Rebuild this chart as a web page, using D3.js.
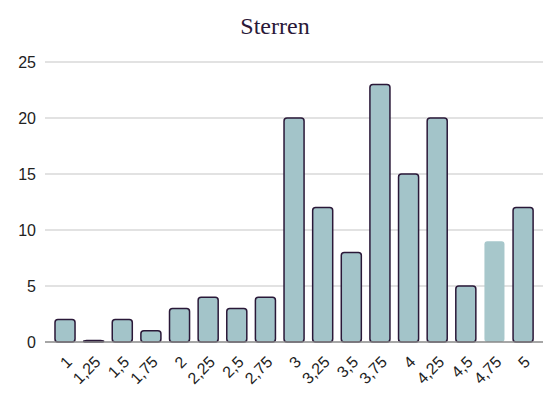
<!DOCTYPE html>
<html lang="nl">
<head>
<meta charset="utf-8">
<script src="https://cdn.jsdelivr.net/npm/d3@7"></script>
<style>
  body { margin: 0; background: #fff; }
  .title { font-family: "Liberation Serif", "DejaVu Serif", serif; font-size: 24px; fill: #2a1838; text-anchor: middle; }
  .tick text { font-family: "Liberation Sans", Arial, sans-serif; font-size: 16px; fill: #222; }
  .grid line { stroke: #d9d9d9; stroke-width: 1.5; }
  .bar { fill: #a3c4c9; stroke: #2a1838; stroke-width: 1.5; }
  .bar.hl { stroke: none; fill: #a7c7cb; }
</style>
</head>
<body>
<div id="chart"></div>
<script>
// data
var labels = ["1","1,25","1,5","1,75","2","2,25","2,5","2,75","3","3,25","3,5","3,75","4","4,25","4,5","4,75","5"];
var counts = [2, 0, 2, 1, 3, 4, 3, 4, 20, 12, 8, 23, 15, 20, 5, 9, 12];
var yTicks = [0, 5, 10, 15, 20, 25];
var highlighted = "4,75";

var width = 549, height = 396;
var plotLeft = 50.7, plotRight = 537.4, plotTop = 62, plotBottom = 342;

var svg = d3.select("#chart").append("svg")
  .attr("width", width)
  .attr("height", height);

svg.append("text")
  .attr("class", "title")
  .attr("x", 275)
  .attr("y", 34)
  .text("Sterren");

var x = d3.scaleBand()
  .domain(labels)
  .range([plotLeft, plotRight])
  .paddingInner(0.3)
  .paddingOuter(0.15);

var y = d3.scaleLinear()
  .domain([0, 25])
  .range([plotBottom, plotTop]);

// gridlines
svg.append("g")
  .attr("class", "grid")
  .selectAll("line")
  .data(yTicks.filter(function(d){ return d > 0; }))
  .enter().append("line")
  .attr("x1", 45).attr("x2", 543)
  .attr("y1", function(d){ return y(d); })
  .attr("y2", function(d){ return y(d); });

// y axis labels
var yAxis = svg.append("g")
  .attr("transform", "translate(45,0)")
  .call(d3.axisLeft(y).tickValues(yTicks).tickSize(0).tickPadding(9));
yAxis.select(".domain").remove();

// bars
svg.append("g")
  .selectAll("rect")
  .data(labels)
  .enter().append("rect")
  .attr("class", function(d){ return d == highlighted ? "bar hl" : "bar"; })
  .attr("x", function(d){ return x(d); })
  .attr("width", x.bandwidth())
  .attr("y", function(d, i){ return Math.min(y(counts[i]), plotBottom - 1.5); })
  .attr("height", function(d, i){ return Math.max(plotBottom - y(counts[i]), 1.5); })
  .attr("rx", 3);

// zero line
svg.append("line")
  .attr("x1", 45).attr("x2", 543)
  .attr("y1", plotBottom).attr("y2", plotBottom)
  .style("stroke", "#888")
  .style("stroke-width", 1.5);

// x axis labels
var xAxis = svg.append("g")
  .attr("transform", "translate(0," + plotBottom + ")")
  .call(d3.axisBottom(x).tickSize(0));
xAxis.select(".domain").remove();
xAxis.selectAll("text")
  .style("text-anchor", "end")
  .attr("y", 0)
  .attr("dy", 0)
  .attr("transform", "translate(8,21) rotate(-45)");
</script>
</body>
</html>
